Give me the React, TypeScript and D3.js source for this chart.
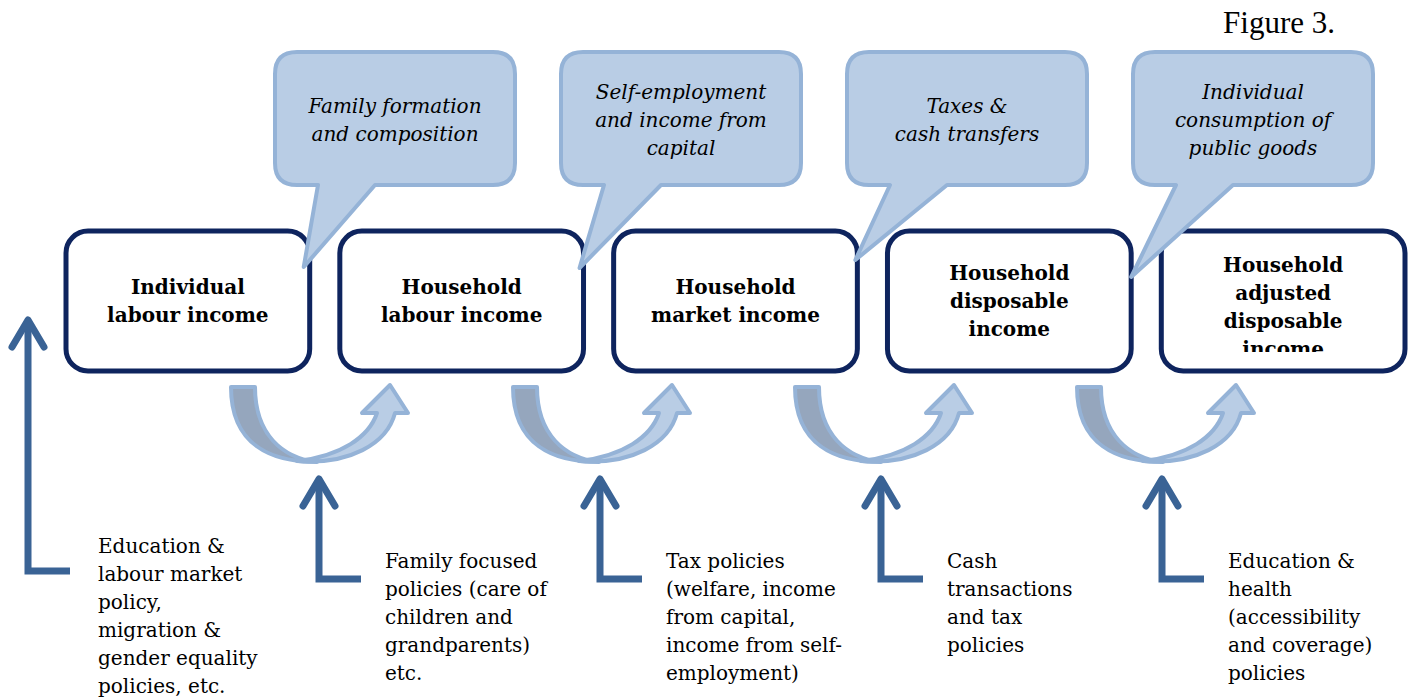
import React from "react";
import * as d3 from "d3";

// stages of income (the boxes)
const stages = [
  ["Individual", "labour income"],
  ["Household", "labour income"],
  ["Household", "market income"],
  ["Household", "disposable", "income"],
  ["Household", "adjusted", "disposable", "income"],
];

// what moves income from one stage to the next (speech bubbles)
const transitions = [
  ["Family formation", "and composition"],
  ["Self-employment", "and income from", "capital"],
  ["Taxes &", "cash transfers"],
  ["Individual", "consumption of", "public goods"],
];

// policies acting on each stage
const policies = [
  ["Education &", "labour market", "policy,", "migration &", "gender equality", "policies, etc."],
  ["Family focused", "policies (care of", "children and", "grandparents)", "etc."],
  ["Tax policies", "(welfare, income", "from capital,", "income from self-", "employment)"],
  ["Cash", "transactions", "and tax", "policies"],
  ["Education &", "health", "(accessibility", "and coverage)", "policies"],
];

const W = 1410;
const H = 700;
const LINE = 28;
const FONT = "'DejaVu Serif', serif";

const navy = "#0e245e";
const bubbleFill = "#b9cde5";
const bubbleStroke = "#95b3d7";
const ribbonDark = "#95a6bd";
const arrowBlue = "#3a6395";

const boxTop = 231;
const boxBottom = 371;
const bubbleTop = 52;
const bubbleBottom = 185;

export default function App() {
  const x = d3
    .scaleBand<number>()
    .domain(d3.range(stages.length))
    .range([66, 1405])
    .paddingInner(0.11);

  // bubbles sit a little wider apart than the ribbons below
  const bubbleX = d3.scaleLinear().domain([0, 3]).range([395, 1253]);
  const ribbonX = d3.scaleLinear().domain([0, 3]).range([231, 1077]);
  const upX = d3.scaleLinear().domain([0, 3]).range([319, 1162]);

  const bubbleW = 240;

  const bubblePath = (cx: number, i: number) => {
    const l = cx - bubbleW / 2;
    const r = cx + bubbleW / 2;
    const t = bubbleTop;
    const b = bubbleBottom;
    const rr = 22;
    const tailL = l + 43;
    const tailR = l + 100;
    // the tail points to the right edge of the box on its left
    const tip: [number, number] = [(x(i) ?? 0) + x.bandwidth() - 6 + i * 2, [267, 268, 260, 277][i]];
    return [
      `M${l + rr},${t}`,
      `H${r - rr}`,
      `Q${r},${t} ${r},${t + rr}`,
      `V${b - rr}`,
      `Q${r},${b} ${r - rr},${b}`,
      `H${tailR}`,
      `L${tip[0]},${tip[1]}`,
      `L${tailL},${b}`,
      `H${l + rr}`,
      `Q${l},${b} ${l},${b - rr}`,
      `V${t + rr}`,
      `Q${l},${t} ${l + rr},${t}`,
      "Z",
    ].join(" ");
  };

  const ribbon = (xs: number) => {
    const top = 387;
    const bot = 462;
    const head = 413;
    const left = [
      `M${xs},${top}`,
      `C${xs},${top + 58} ${xs + 40},${bot} ${xs + 86},${bot}`,
      `C${xs + 52},${bot - 4} ${xs + 24},${top + 48} ${xs + 24},${top}`,
      "Z",
    ].join(" ");
    const right = [
      `M${xs + 66},${bot - 1}`,
      `C${xs + 118},${bot + 3} ${xs + 156},${bot - 18} ${xs + 164},${head}`,
      `L${xs + 177},${head}`,
      `L${xs + 159},${top - 2}`,
      `L${xs + 131},${head}`,
      `L${xs + 146},${head}`,
      `C${xs + 138},${bot - 25} ${xs + 110},${bot - 6} ${xs + 66},${bot - 1}`,
      "Z",
    ].join(" ");
    return { left, right };
  };

  const upArrow = (ax: number, top: number, bottom: number, right: number) => (
    <g stroke={arrowBlue} strokeWidth={7} fill="none">
      <path d={`M${ax},${top + 3} V${bottom} H${right}`} strokeLinejoin="miter" />
      <path d={`M${ax - 16},${top + 29} L${ax},${top + 2} L${ax + 16},${top + 29}`} strokeLinecap="round" strokeLinejoin="round" />
    </g>
  );

  return (
    <svg width={W} height={H} style={{ position: "absolute", left: 0, top: 0, background: "#fff" }}>
      <defs>
        {stages.map((_, i) => (
          <clipPath id={`clip${i}`} key={i}>
            <rect x={x(i)} y={boxTop + 8} width={x.bandwidth()} height={boxBottom - boxTop - 27} />
          </clipPath>
        ))}
      </defs>

      <text x={1335} y={33} textAnchor="end" fontFamily="'Liberation Serif', serif" fontSize={31}>
        Figure 3.
      </text>

      {/* curved ribbons between boxes */}
      {transitions.map((_, i) => {
        const r = ribbon(ribbonX(i));
        return (
          <g key={i} stroke={bubbleStroke} strokeWidth={4} strokeLinejoin="round">
            <path d={r.left} fill={ribbonDark} />
            <path d={r.right} fill={bubbleFill} />
          </g>
        );
      })}

      {/* stage boxes */}
      {stages.map((lines, i) => {
        const bx = x(i) ?? 0;
        const cx = bx + x.bandwidth() / 2;
        const mid = (boxTop + boxBottom) / 2;
        const first = Math.max(mid - ((lines.length - 1) * LINE) / 2, boxTop + 34);
        return (
          <g key={i}>
            <rect
              x={bx}
              y={boxTop}
              width={x.bandwidth()}
              height={boxBottom - boxTop}
              rx={22}
              fill="#fff"
              stroke={navy}
              strokeWidth={5}
            />
            <g clipPath={`url(#clip${i})`}>
              {lines.map((t, j) => (
                <text
                  key={j}
                  x={cx}
                  y={first + j * LINE + 7}
                  textAnchor="middle"
                  fontFamily={FONT}
                  fontWeight="bold"
                  fontSize={20}
                >
                  {t}
                </text>
              ))}
            </g>
          </g>
        );
      })}

      {/* speech bubbles */}
      {transitions.map((lines, i) => {
        const cx = bubbleX(i);
        const mid = (bubbleTop + bubbleBottom) / 2 + 1;
        const first = mid - ((lines.length - 1) * LINE) / 2;
        return (
          <g key={i}>
            <path d={bubblePath(cx, i)} fill={bubbleFill} stroke={bubbleStroke} strokeWidth={4} strokeLinejoin="round" />
            {lines.map((t, j) => (
              <text
                key={j}
                x={cx}
                y={first + j * LINE + 7}
                textAnchor="middle"
                fontFamily={FONT}
                fontStyle="italic"
                fontSize={20}
              >
                {t}
              </text>
            ))}
          </g>
        );
      })}

      {/* policy arrows */}
      {upArrow(28, 318, 571, 70)}
      {transitions.map((_, i) => (
        <g key={i}>{upArrow(upX(i), 477, 579, upX(i) + 42)}</g>
      ))}

      {/* policy texts */}
      {policies.map((lines, i) => {
        const tx = i === 0 ? 98 : upX(i - 1) + 66;
        const first = i === 0 ? 546 : 561;
        return lines.map((t, j) => (
          <text key={`${i}-${j}`} x={tx} y={first + j * LINE + 7} fontFamily={FONT} fontSize={20}>
            {t}
          </text>
        ));
      })}
    </svg>
  );
}
